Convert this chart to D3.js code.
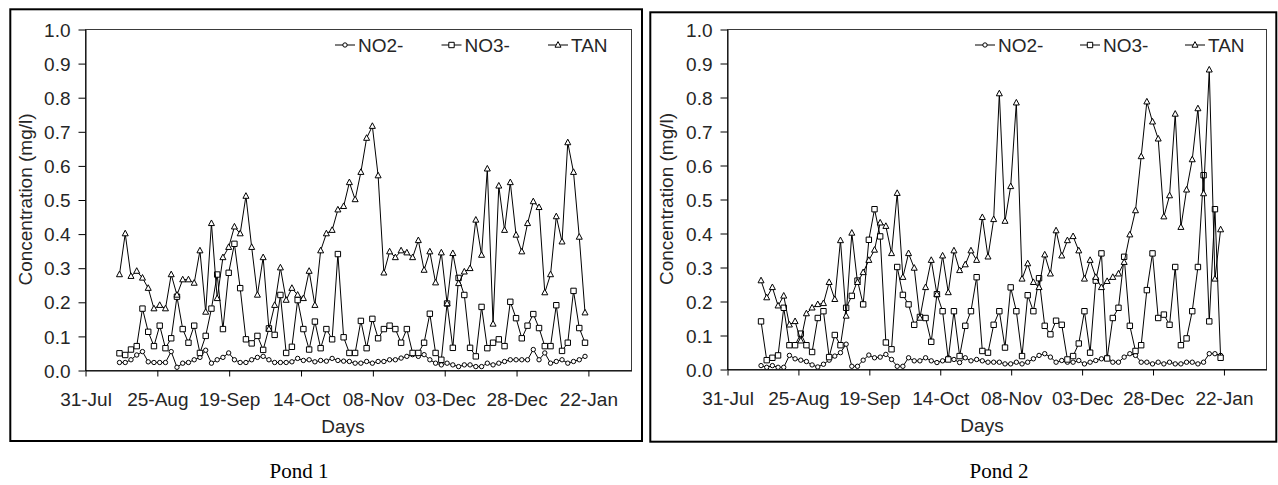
<!DOCTYPE html>
<html>
<head>
<meta charset="utf-8">
<script src="https://cdn.jsdelivr.net/npm/d3@7"></script>
<style>
  html, body { margin: 0; padding: 0; background: #fff; }
  svg { display: block; }
</style>
</head>
<body>
<svg id="chart" width="1278" height="485"></svg>
<script>
// Sampling days (every second day, 12 Aug - 21 Jan)
const sampleDates = [
  "2008-08-12","2008-08-14","2008-08-16","2008-08-18","2008-08-20","2008-08-22","2008-08-24","2008-08-26","2008-08-28","2008-08-30",
  "2008-09-01","2008-09-03","2008-09-05","2008-09-07","2008-09-09","2008-09-11","2008-09-13","2008-09-15","2008-09-17","2008-09-19",
  "2008-09-21","2008-09-23","2008-09-25","2008-09-27","2008-09-29","2008-10-01","2008-10-03","2008-10-05","2008-10-07","2008-10-09",
  "2008-10-11","2008-10-13","2008-10-15","2008-10-17","2008-10-19","2008-10-21","2008-10-23","2008-10-25","2008-10-27","2008-10-29",
  "2008-10-31","2008-11-02","2008-11-04","2008-11-06","2008-11-08","2008-11-10","2008-11-12","2008-11-14","2008-11-16","2008-11-18",
  "2008-11-20","2008-11-22","2008-11-24","2008-11-26","2008-11-28","2008-11-30","2008-12-02","2008-12-04","2008-12-06","2008-12-08",
  "2008-12-10","2008-12-12","2008-12-14","2008-12-16","2008-12-18","2008-12-20","2008-12-22","2008-12-24","2008-12-26","2008-12-28",
  "2008-12-30","2009-01-01","2009-01-03","2009-01-05","2009-01-07","2009-01-09","2009-01-11","2009-01-13","2009-01-15","2009-01-17",
  "2009-01-19","2009-01-21"
];

const xDomain = ["2008-07-31", "2009-02-06"];
const xTickDates = ["2008-07-31","2008-08-25","2008-09-19","2008-10-14","2008-11-08","2008-12-03","2008-12-28","2009-01-22"];
const yTickValues = [0, 0.1, 0.2, 0.3, 0.4, 0.5, 0.6, 0.7, 0.8, 0.9, 1.0];
const seriesNames = ["NO2-", "NO3-", "TAN"];

// Pond 1 concentrations (mg/l)
const pond1NO2 = [
  0.022,0.022,0.03,0.044,0.054,0.024,0.022,0.022,0.022,0.054,
  0.008,0.02,0.022,0.03,0.037,0.058,0.02,0.03,0.037,0.05,
  0.03,0.022,0.022,0.03,0.037,0.04,0.03,0.022,0.022,0.022,
  0.024,0.034,0.028,0.03,0.024,0.028,0.026,0.034,0.028,0.026,
  0.025,0.02,0.02,0.025,0.02,0.025,0.025,0.03,0.03,0.035,
  0.04,0.045,0.04,0.045,0.03,0.02,0.015,0.02,0.015,0.01,
  0.015,0.015,0.01,0.01,0.02,0.015,0.02,0.025,0.03,0.03,
  0.03,0.03,0.06,0.03,0.05,0.02,0.025,0.03,0.02,0.025,
  0.03,0.04
];
const pond1NO3 = [
  0.049,0.044,0.06,0.07,0.18,0.112,0.07,0.13,0.064,0.093,
  0.215,0.12,0.08,0.13,0.05,0.10,0.18,0.28,0.12,0.285,
  0.37,0.24,0.09,0.078,0.10,0.059,0.122,0.103,0.22,0.05,
  0.068,0.205,0.12,0.06,0.142,0.064,0.12,0.09,0.34,0.096,
  0.05,0.05,0.144,0.064,0.15,0.093,0.12,0.13,0.12,0.08,
  0.12,0.05,0.05,0.08,0.165,0.05,0.03,0.195,0.065,0.27,
  0.22,0.065,0.04,0.185,0.064,0.08,0.09,0.07,0.2,0.152,
  0.093,0.13,0.164,0.123,0.07,0.07,0.19,0.056,0.08,0.232,
  0.123,0.08
];
const pond1TAN = [
  0.28,0.40,0.275,0.29,0.27,0.24,0.18,0.19,0.18,0.28,
  0.22,0.265,0.265,0.255,0.35,0.17,0.43,0.21,0.33,0.36,
  0.42,0.40,0.51,0.36,0.22,0.33,0.12,0.19,0.30,0.205,
  0.24,0.22,0.21,0.29,0.19,0.35,0.40,0.41,0.47,0.48,
  0.55,0.50,0.58,0.68,0.715,0.57,0.285,0.347,0.33,0.35,
  0.344,0.33,0.38,0.293,0.347,0.256,0.344,0.195,0.342,0.254,
  0.288,0.298,0.44,0.337,0.59,0.135,0.54,0.41,0.55,0.396,
  0.347,0.43,0.494,0.477,0.227,0.28,0.45,0.376,0.667,0.58,
  0.39,0.168
];

// Pond 2 concentrations (mg/l)
const pond2NO2 = [
  0.01,0.005,0.01,0.005,0.005,0.04,0.03,0.026,0.022,0.012,
  0.006,0.014,0.026,0.038,0.048,0.073,0.008,0.008,0.026,0.041,
  0.033,0.035,0.043,0.028,0.008,0.008,0.033,0.024,0.024,0.033,
  0.024,0.019,0.024,0.033,0.028,0.019,0.033,0.024,0.028,0.024,
  0.02,0.02,0.02,0.015,0.015,0.02,0.015,0.02,0.03,0.04,
  0.045,0.035,0.02,0.025,0.02,0.02,0.025,0.015,0.02,0.025,
  0.03,0.035,0.02,0.02,0.035,0.045,0.04,0.02,0.02,0.015,
  0.02,0.015,0.02,0.015,0.015,0.02,0.02,0.015,0.02,0.045,
  0.045,0.04
];
const pond2NO3 = [
  0.14,0.026,0.033,0.04,0.18,0.07,0.07,0.104,0.07,0.05,
  0.15,0.17,0.035,0.10,0.07,0.18,0.215,0.26,0.19,0.38,
  0.47,0.39,0.078,0.058,0.30,0.218,0.19,0.13,0.153,0.15,
  0.08,0.22,0.17,0.028,0.17,0.038,0.127,0.17,0.27,0.053,
  0.048,0.13,0.17,0.063,0.24,0.17,0.038,0.217,0.17,0.267,
  0.127,0.102,0.142,0.13,0.028,0.038,0.075,0.17,0.048,0.26,
  0.34,0.031,0.15,0.18,0.33,0.127,0.053,0.07,0.232,0.34,
  0.15,0.16,0.13,0.30,0.07,0.09,0.17,0.30,0.57,0.14,
  0.47,0.033
];
const pond2TAN = [
  0.26,0.21,0.24,0.186,0.215,0.13,0.14,0.083,0.163,0.18,
  0.19,0.193,0.255,0.205,0.378,0.156,0.40,0.255,0.284,0.32,
  0.35,0.43,0.42,0.34,0.517,0.27,0.34,0.297,0.15,0.24,
  0.32,0.22,0.333,0.225,0.348,0.29,0.307,0.348,0.32,0.446,
  0.33,0.44,0.81,0.435,0.537,0.783,0.265,0.31,0.255,0.24,
  0.336,0.28,0.407,0.333,0.378,0.39,0.348,0.265,0.32,0.27,
  0.24,0.258,0.27,0.28,0.314,0.395,0.466,0.625,0.786,0.727,
  0.677,0.448,0.51,0.75,0.417,0.527,0.616,0.766,0.516,0.88,
  0.265,0.41
];

const SANS = "'Liberation Sans', Arial, sans-serif";
const SERIF = "'Liberation Serif', 'Times New Roman', serif";
const TEXT_COLOR = "#262626";

const parseDay = d3.timeParse("%Y-%m-%d");
const dates = sampleDates.map(parseDay);

// Marker outlines for the three series
const markerPaths = [
  d3.symbol(d3.symbolCircle, 15)(),
  "M-2.7,-2.7h5.4v5.4h-5.4z",
  "M0,-3.4L3,2.2L-3,2.2Z"
];

const panels = [
  {
    caption: "Pond 1",
    frame: { x: 10.3, y: 9.3, w: 631.7, h: 431.7 },
    plot: { l: 85, t: 29, r: 631, b: 370 },
    legendX: 335, legendStep: 106.5,
    daysX: 343, daysY: 433,
    yTitleX: 32,
    captionX: 299,
    series: [pond1NO2, pond1NO3, pond1TAN]
  },
  {
    caption: "Pond 2",
    frame: { x: 650.3, y: 12.3, w: 626, h: 429.4 },
    plot: { l: 727, t: 29, r: 1266, b: 369 },
    legendX: 975, legendStep: 105,
    daysX: 982, daysY: 432,
    yTitleX: 673,
    captionX: 999,
    series: [pond2NO2, pond2NO3, pond2TAN]
  }
];

const svg = d3.select("#chart");

panels.forEach(p => {
  const g = svg.append("g");

  // outer frame
  g.append("rect")
    .attr("x", p.frame.x).attr("y", p.frame.y)
    .attr("width", p.frame.w).attr("height", p.frame.h)
    .attr("fill", "none").attr("stroke", "#000").attr("stroke-width", 2);

  const x = d3.scaleTime()
    .domain(xDomain.map(parseDay))
    .range([p.plot.l, p.plot.r]);
  const y = d3.scaleLinear()
    .domain([0, 1])
    .range([p.plot.b, p.plot.t]);

  // plot area border
  g.append("rect")
    .attr("x", p.plot.l + 0.5).attr("y", p.plot.t + 0.5)
    .attr("width", p.plot.r - p.plot.l).attr("height", p.plot.b - p.plot.t)
    .attr("fill", "none").attr("stroke", "#3a3a3a").attr("stroke-width", 1);

  // y axis
  const yAxis = g.append("g")
    .attr("transform", `translate(${p.plot.l + 0.5},0.5)`)
    .call(d3.axisLeft(y).tickValues(yTickValues)
      .tickFormat(d3.format(".1f")).tickSize(7).tickSizeOuter(0).tickPadding(8));
  // x axis
  const xAxis = g.append("g")
    .attr("transform", `translate(0.5,${p.plot.b + 0.5})`)
    .call(d3.axisBottom(x).tickValues(xTickDates.map(parseDay))
      .tickFormat(d3.timeFormat("%d-%b")).tickSize(6).tickSizeOuter(0).tickPadding(16));

  [yAxis, xAxis].forEach(ax => {
    ax.select(".domain").attr("stroke", "#000");
    ax.selectAll(".tick line").attr("stroke", "#000");
    ax.selectAll(".tick text")
      .attr("font-family", SANS).attr("font-size", 19).attr("fill", TEXT_COLOR);
  });
  yAxis.selectAll(".tick text").attr("dy", "0.35em");

  // axis titles
  g.append("text")
    .attr("transform", `translate(${p.yTitleX},${(p.plot.t + p.plot.b) / 2}) rotate(-90)`)
    .attr("text-anchor", "middle")
    .attr("font-family", SANS).attr("font-size", 19).attr("fill", TEXT_COLOR)
    .text("Concentration (mg/l)");
  g.append("text")
    .attr("x", p.daysX).attr("y", p.daysY)
    .attr("text-anchor", "middle")
    .attr("font-family", SANS).attr("font-size", 19).attr("fill", TEXT_COLOR)
    .text("Days");

  // series lines and markers
  const line = d3.line()
    .x((d, i) => x(dates[i]))
    .y(d => y(d));

  p.series.forEach((values, si) => {
    g.append("path")
      .datum(values)
      .attr("d", line)
      .attr("fill", "none").attr("stroke", "#000").attr("stroke-width", 1);
    g.append("g").selectAll("path")
      .data(values)
      .join("path")
      .attr("d", markerPaths[si])
      .attr("transform", (d, i) => `translate(${x(dates[i])},${y(d)})`)
      .attr("fill", "#fff").attr("stroke", "#000").attr("stroke-width", 1);
  });

  // legend
  seriesNames.forEach((name, si) => {
    const lx = p.legendX + si * p.legendStep;
    const ly = 45;
    g.append("line")
      .attr("x1", lx).attr("x2", lx + 20).attr("y1", ly).attr("y2", ly)
      .attr("stroke", "#000").attr("stroke-width", 1);
    g.append("path")
      .attr("d", markerPaths[si])
      .attr("transform", `translate(${lx + 10},${ly})`)
      .attr("fill", "#fff").attr("stroke", "#000").attr("stroke-width", 1);
    g.append("text")
      .attr("x", lx + 23).attr("y", 52)
      .attr("font-family", SANS).attr("font-size", 19).attr("fill", TEXT_COLOR)
      .text(name);
  });

  // panel caption
  g.append("text")
    .attr("x", p.captionX).attr("y", 478)
    .attr("text-anchor", "middle")
    .attr("font-family", SERIF).attr("font-size", 21).attr("fill", "#000")
    .text(p.caption);
});
</script>
</body>
</html>
